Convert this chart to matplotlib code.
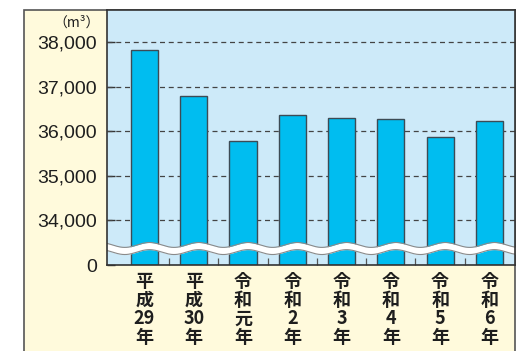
import numpy as np
import matplotlib
matplotlib.use("Agg")
import matplotlib.pyplot as plt
from matplotlib.patches import Rectangle

# yearly volume (m3)
years = ["平\n成\n29\n年", "平\n成\n30\n年", "令\n和\n元\n年", "令\n和\n2\n年",
         "令\n和\n3\n年", "令\n和\n4\n年", "令\n和\n5\n年", "令\n和\n6\n年"]
volumes = [37820, 36780, 35790, 36370, 36300, 36270, 35870, 36220]
ytick_values = [0, 34000, 35000, 36000, 37000, 38000]
unit_label = "（m³）"

# the axis is broken below 34,000: everything above is shifted down
OFFSET = 33000
BAR_COLOR = "#00bdf0"
EDGE_COLOR = "#3d4b55"
PLOT_BG = "#cdeaf9"
FRAME_BG = "#fffadc"


def shifted(v):
    return v - OFFSET if v else 0


fig = plt.figure(figsize=(5.29, 3.51), dpi=100)
W, H = 529, 351

# yellow frame around the whole chart
frame = Rectangle((24 / W, -0.1), (515 - 24) / W, 1.1 - 10 / H,
                  transform=fig.transFigure, facecolor=FRAME_BG,
                  edgecolor="#555555", linewidth=1.2, zorder=-1)
fig.add_artist(frame)

ax = fig.add_axes([107 / W, 1 - 265 / H, (515 - 107) / W, (265 - 10) / H])
ax.set_zorder(2)
ax.set_facecolor(PLOT_BG)
ax.set_xlim(-0.76, 7.52)
ax.set_ylim(0, 5720)

x = np.arange(len(volumes))
ax.bar(x, [shifted(v) for v in volumes], width=0.55, color=BAR_COLOR,
       edgecolor=EDGE_COLOR, linewidth=1.0, zorder=3)

# dashed grid lines above the break
for v in ytick_values[1:]:
    ax.axhline(shifted(v), color="#444444", linewidth=0.9,
               linestyle=(0, (4, 3)), zorder=2)

# wavy break band across the plot
wx = np.linspace(-0.76, 7.52, 400)
wave = 55 * np.sin(2 * np.pi * (wx + 0.15))
center, half = 370, 80
ax.fill_between(wx, center - half + wave, center + half + wave,
                color="white", zorder=4, linewidth=0)
ax.plot(wx, center - half + wave, color="#8a8a8a", linewidth=0.8, zorder=5)
ax.plot(wx, center + half + wave, color="#8a8a8a", linewidth=0.8, zorder=5)

ax.set_yticks([shifted(v) for v in ytick_values])
ax.set_yticklabels([f"{v:,}" for v in ytick_values],
                   fontfamily="Liberation Sans", fontsize=14, color="#1e1e1e")
ax.tick_params(axis="y", direction="in", length=6, width=1.0,
               color="#333333", pad=7)

ax.set_xticks(x)
ax.set_xticklabels(years, fontfamily=["Noto Sans CJK JP", "DejaVu Sans"],
                   fontsize=13, color="#1e1e1e", linespacing=0.98,
                   fontweight="bold")
ax.tick_params(axis="x", length=0, pad=5)
ax.set_xticks(x[:-1] + 0.5, minor=True)
ax.tick_params(axis="x", which="minor", direction="in", length=5,
               width=0.9, color="#555555")

for side in ax.spines.values():
    side.set_color("#333333")
    side.set_linewidth(1.2)
    side.set_zorder(6)

fig.text(100 / W, 1 - 23 / H, unit_label, ha="right", va="center",
         fontsize=10, fontfamily=["Noto Sans CJK JP", "DejaVu Sans"],
         color="#1e1e1e")

fig.savefig("out.png", dpi=100)
